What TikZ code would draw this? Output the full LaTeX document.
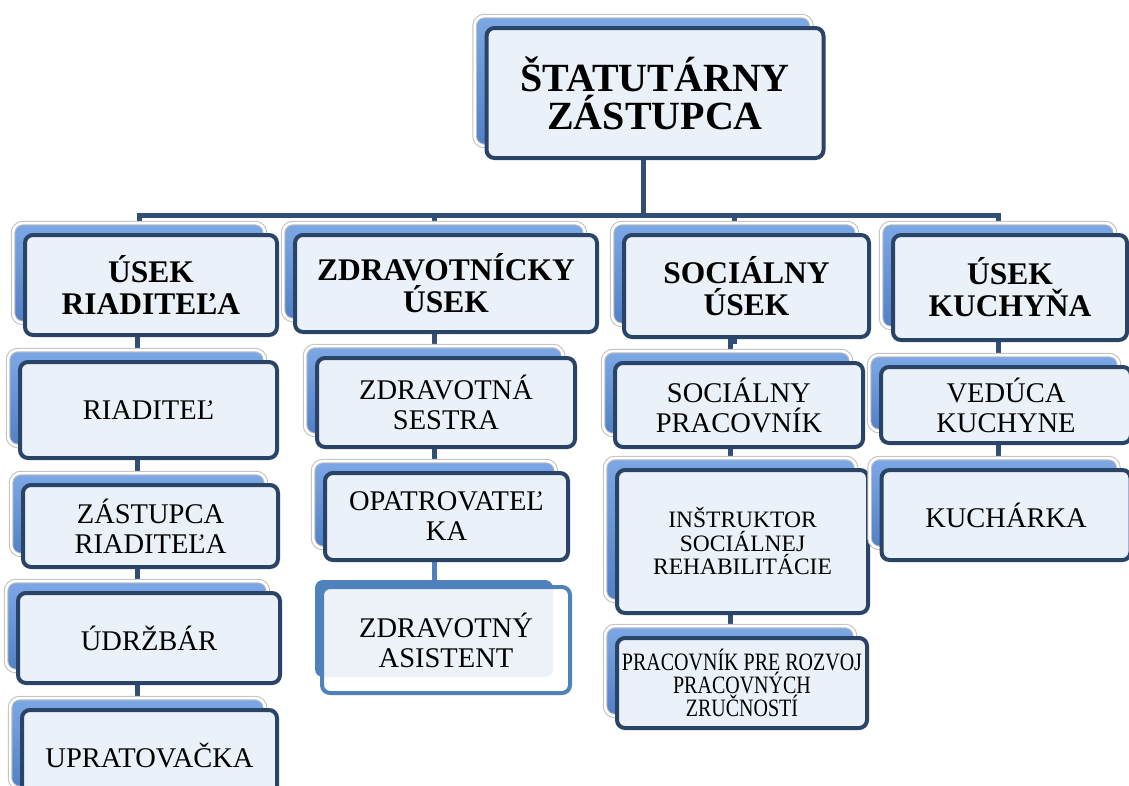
\documentclass[tikz,border=0pt]{standalone}
\usepackage{fontspec}
\setmainfont{Liberation Serif}
\newfontfamily\narrowserif{Liberation Serif}[FakeStretch=0.8]
\usetikzlibrary{backgrounds}

\definecolor{cardrim}{RGB}{190,190,190}
\definecolor{cardtop}{RGB}{125,168,230}
\definecolor{cardbot}{RGB}{82,128,198}
\definecolor{frameblue}{RGB}{42,68,104}
\definecolor{paleblue}{RGB}{235,241,248}
\definecolor{linkblue}{RGB}{48,78,118}
\definecolor{softblue}{RGB}{79,129,189}

\begin{document}
\begin{tikzpicture}[x=1pt,y=-1pt,
    box size/.style 2 args={minimum width=#1pt,minimum height=#2pt},
    back/.style={draw=cardrim,line width=1pt,double=white,double distance=2.5pt,
      top color=cardtop,bottom color=cardbot,rounded corners=10pt},
    front/.style={draw=frameblue,line width=4pt,fill=paleblue,rounded corners=8pt,
      align=center,inner sep=2pt},
    boss/.style={front,font=\bfseries\fontsize{40}{38}\selectfont},
    unit/.style={front,font=\bfseries\fontsize{31.5}{32}\selectfont},
    role/.style={front,font=\fontsize{28.5}{30}\selectfont},
    conn/.style={draw=linkblue,line width=5pt}]
  \useasboundingbox (0,0) rectangle (1129,785);

  % statutory head
  \node[back,box size={337}{130}] (top-b) at (643,81) {};
  \node[boss,box size={337}{130}] (top) at (655,93) {ŠTATUTÁRNY\\ZÁSTUPCA};

  % sections
  \node[back,box size={252}{100}] (u1-b) at (139,273) {};
  \node[unit,box size={252}{100}] (u1) at (151,285) {ÚSEK\\RIADITEĽA};
  \node[back,box size={302}{97}] (u2-b) at (434,271.5) {};
  \node[unit,box size={302}{97}] (u2) at (446,283.5) {ZDRAVOTNÍCKY\\ÚSEK};
  \node[back,box size={245}{102}] (u3-b) at (734.5,274) {};
  \node[unit,box size={245}{102}] (u3) at (746.5,286) {SOCIÁLNY\\ÚSEK};
  \node[back,box size={234}{105}] (u4-b) at (998,275.5) {};
  \node[unit,box size={234}{105}] (u4) at (1010,287.5) {ÚSEK\\KUCHYŇA};

  % usek riaditela
  \node[back,box size={257}{96}] (rid-b) at (136.5,398) {};
  \node[role,box size={257}{96}] (rid) at (148.5,410) {RIADITEĽ};
  \node[back,box size={255}{82}] (zas-b) at (138.5,514) {};
  \node[role,box size={255}{82}] (zas) at (150.5,526) {ZÁSTUPCA\\RIADITEĽA};
  \node[back,box size={262}{90}] (udr-b) at (137,626) {};
  \node[role,box size={262}{90}] (udr) at (149,638) {ÚDRŽBÁR};
  \node[back,box size={255}{90}] (upr-b) at (137.5,743) {};
  \node[role,box size={255}{90}] (upr) at (149.5,755) {UPRATOVAČKA};

  % zdravotnicky usek
  \node[back,box size={258}{89}] (zs-b) at (434,390.5) {};
  \node[role,box size={258}{89}] (zs) at (446,402.5) {ZDRAVOTNÁ\\SESTRA};
  \node[back,box size={243}{87}] (opa-b) at (434.5,504.5) {};
  \node[role,box size={243}{87}] (opa) at (446.5,516.5) {OPATROVATEĽ\\KA};
  \node[fill=softblue,rounded corners=8pt,box size={238}{97}] (asis-b) at (434,628.5) {};
  \node[role,draw=softblue,line width=4pt,fill=white,fill opacity=0.9,text opacity=1,
    box size={248}{106}] (asis) at (446,640) {ZDRAVOTNÝ\\ASISTENT};

  % socialny usek
  \node[back,box size={248}{84}] (spr-b) at (727,393) {};
  \node[role,box size={248}{84}] (spr) at (739,405) {SOCIÁLNY\\PRACOVNÍK};
  \node[back,box size={251}{143}] (ins-b) at (730.5,529.5) {};
  \node[role,box size={251}{143},font=\fontsize{23.5}{23.5}\selectfont] (ins) at (742.5,541.5)
    {INŠTRUKTOR\\SOCIÁLNEJ\\REHABILITÁCIE};
  \node[back,box size={250}{90}] (prz-b) at (730,671) {};
  \node[role,box size={250}{90},font=\narrowserif\fontsize{25}{22.7}\selectfont] (prz) at (742,683)
    {PRACOVNÍK PRE ROZVOJ\\PRACOVNÝCH\\ZRUČNOSTÍ};

  % usek kuchyna
  \node[back,box size={250}{76}] (ved-b) at (994,393) {};
  \node[role,box size={250}{76}] (ved) at (1006,405) {VEDÚCA\\KUCHYNE};
  \node[back,box size={249}{90}] (kuch-b) at (994,503) {};
  \node[role,box size={249}{90}] (kuch) at (1006,515) {KUCHÁRKA};

  \begin{scope}[on background layer]
    \coordinate (bus) at (643,215);
    \draw[conn] (top-b.south) -- (bus);
    \draw[conn] (u1-b.north) -- (u1-b.north |- bus) -- (u4-b.north |- bus) -- (u4-b.north);
    \draw[conn] (u2-b.north) -- (u2-b.north |- bus);
    \draw[conn] (u3-b.north) -- (u3-b.north |- bus);
    \draw[conn] (u1-b.south -| upr-b) -- (upr-b.north);
    \draw[conn] (u2-b.south) -- (opa-b.south -| u2-b);
    \draw[conn,draw=softblue] (opa-b.south -| u2-b) -- (asis-b.north -| u2-b);
    \draw[conn] (u3-b.south) -- ++(0,16) -| (prz-b.north);
    \draw[conn] (u4-b.south) -- (kuch-b.north -| u4-b);
  \end{scope}
\end{tikzpicture}
\end{document}
